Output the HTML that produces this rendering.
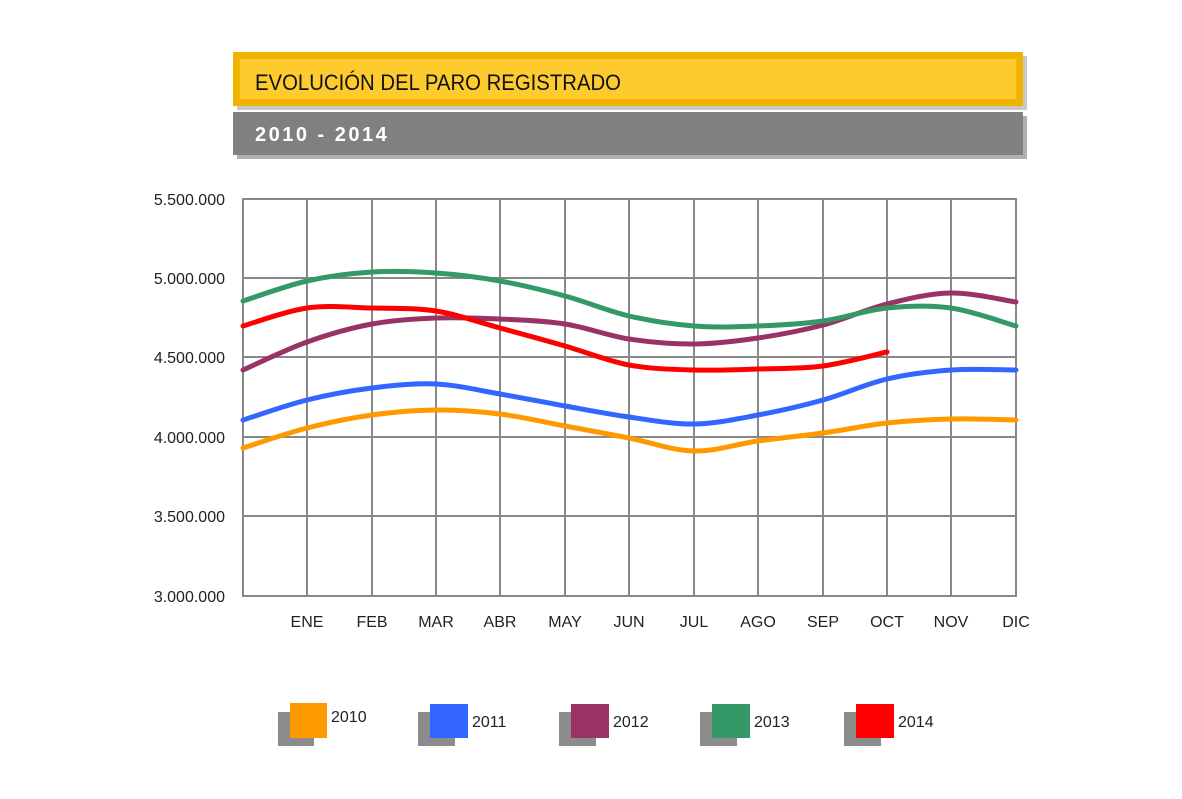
<!DOCTYPE html>
<html><head><meta charset="utf-8"><style>
body{margin:0;background:#fff;width:1182px;height:799px;overflow:hidden}
svg{display:block}
text{font-family:"Liberation Sans",sans-serif}
</style></head><body>
<svg width="1182" height="799" viewBox="0 0 1182 799">
<!-- header -->
<rect x="237" y="56" width="790" height="54" fill="#c8c8c8"/>
<rect x="233" y="52" width="790" height="54" fill="#f0b400"/>
<rect x="240" y="59" width="776" height="40" fill="#fecb2e"/>
<text x="255" y="90" font-size="22" fill="#111" textLength="366" lengthAdjust="spacingAndGlyphs">EVOLUCIÓN DEL PARO REGISTRADO</text>
<rect x="237" y="116" width="790" height="43" fill="#b0b0b0"/>
<rect x="233" y="112" width="790" height="43" fill="#808080"/>
<text x="255" y="141" font-size="20" font-weight="bold" fill="#fff" letter-spacing="2.5">2010 - 2014</text>
<!-- grid -->
<g stroke="#888" stroke-width="2" fill="none">
<rect x="243" y="199" width="773" height="397"/>
<path d="M307 199V596M372 199V596M436 199V596M500 199V596M565 199V596M629 199V596M694 199V596M758 199V596M823 199V596M887 199V596M951 199V596M243 278H1016M243 357H1016M243 437H1016M243 516H1016"/>
</g>
<g font-size="16" fill="#222" text-anchor="end">
<text x="225" y="205">5.500.000</text><text x="225" y="284">5.000.000</text><text x="225" y="363">4.500.000</text><text x="225" y="443">4.000.000</text><text x="225" y="522">3.500.000</text><text x="225" y="602">3.000.000</text>
</g>
<g font-size="16" fill="#222" text-anchor="middle">
<text x="307" y="627">ENE</text><text x="372" y="627">FEB</text><text x="436" y="627">MAR</text><text x="500" y="627">ABR</text><text x="565" y="627">MAY</text><text x="629" y="627">JUN</text><text x="694" y="627">JUL</text><text x="758" y="627">AGO</text><text x="823" y="627">SEP</text><text x="887" y="627">OCT</text><text x="951" y="627">NOV</text><text x="1016" y="627">DIC</text>
</g>
<g id="lines" fill="none" stroke-width="5" stroke-linejoin="round" stroke-linecap="round"></g>
<!-- legend -->
<g font-size="16" fill="#222">
<rect x="278" y="712" width="36" height="34" fill="#8c8c8c"/><rect x="290" y="703" width="37" height="35" fill="#ff9900"/><text x="331" y="722">2010</text>
<rect x="418" y="712" width="37" height="34" fill="#8c8c8c"/><rect x="430" y="704" width="38" height="34" fill="#3366ff"/><text x="472" y="727">2011</text>
<rect x="559" y="712" width="37" height="34" fill="#8c8c8c"/><rect x="571" y="704" width="38" height="34" fill="#993366"/><text x="613" y="727">2012</text>
<rect x="700" y="712" width="37" height="34" fill="#8c8c8c"/><rect x="712" y="704" width="38" height="34" fill="#339966"/><text x="754" y="727">2013</text>
<rect x="844" y="712" width="37" height="34" fill="#8c8c8c"/><rect x="856" y="704" width="38" height="34" fill="#ff0000"/><text x="898" y="727">2014</text>
</g>
</svg>
<script>
var xs=[243,307,372,436,500,565,629,694,758,823,887,951,1016];
var S=[["#ff9900",[448,428,415,410,414,426,438,451,441,433,423,419,420]],
["#3366ff",[420,400,388,384,394,406,417,424,415,400,379,370,370]],
["#993366",[370,342,324,318,319,324,339,344,338,325,304,293,302]],
["#339966",[301,281,272,273,281,296,316,326,326,321,308,308,326]],
["#ff0000",[326,308,308,311,328,346,365,370,369,366,352]]];
var g=document.getElementById('lines'),ns="http://www.w3.org/2000/svg";
S.forEach(function(s){var y=s[1],n=y.length,p=[];for(var i=0;i<n;i++)p.push([xs[i],y[i]]);
var d="M"+p[0][0]+" "+p[0][1];
for(var i=0;i<n-1;i++){var a=p[Math.max(i-1,0)],b=p[i],c=p[i+1],e=p[Math.min(i+2,n-1)];
d+="C"+(b[0]+(c[0]-a[0])/6)+" "+(b[1]+(c[1]-a[1])/6)+" "+(c[0]-(e[0]-b[0])/6)+" "+(c[1]-(e[1]-b[1])/6)+" "+c[0]+" "+c[1];}
var el=document.createElementNS(ns,"path");el.setAttribute("d",d);el.setAttribute("stroke",s[0]);g.appendChild(el);});
</script>
</body></html>
